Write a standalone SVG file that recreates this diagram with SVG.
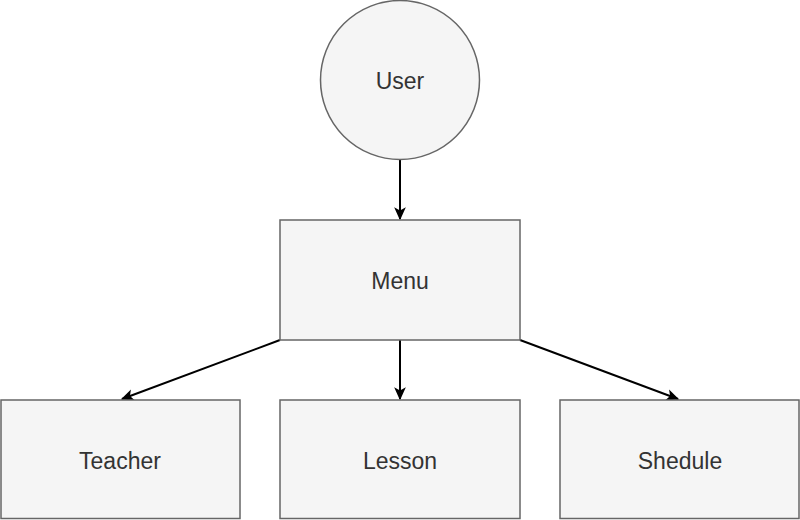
<svg xmlns="http://www.w3.org/2000/svg" width="800" height="520" viewBox="0 0 800 520">
<style>
.box{fill:#f5f5f5;stroke:#666666;stroke-width:1.5}
.lbl{font-family:"Liberation Sans",Arial,sans-serif;font-size:23px;fill:#333333;text-anchor:middle}
.edge{stroke:#000000;stroke-width:2;fill:none}
</style>
<defs>
<marker id="arr" viewBox="0 0 10 10" refX="9" refY="5" markerWidth="13" markerHeight="13" markerUnits="userSpaceOnUse" orient="auto">
<path d="M0,0.5 L10,5 L0,9.5 L2.5,5 Z" fill="#000000"/>
</marker>
</defs>
<rect width="800" height="520" fill="#ffffff"/>
<g id="connectors">
<path class="edge" d="M400,160 L400,219" marker-end="url(#arr)"/>
<path class="edge" d="M400,340 L400,399" marker-end="url(#arr)"/>
<path class="edge" d="M280,340 L122,399" marker-end="url(#arr)"/>
<path class="edge" d="M520,340 L678,399" marker-end="url(#arr)"/>
</g>
<g id="user">
<circle class="box" cx="400" cy="80" r="79.5"/>
<text class="lbl" x="400" y="89">User</text>
</g>
<g id="menu">
<rect class="box" x="280" y="220" width="240" height="120"/>
<text class="lbl" x="400" y="289">Menu</text>
</g>
<g id="teacher">
<rect class="box" x="1" y="400" width="239" height="118.5"/>
<text class="lbl" x="120" y="469">Teacher</text>
</g>
<g id="lesson">
<rect class="box" x="280" y="400" width="240" height="118.5"/>
<text class="lbl" x="400" y="469">Lesson</text>
</g>
<g id="shedule">
<rect class="box" x="560" y="400" width="239" height="118.5"/>
<text class="lbl" x="680" y="469">Shedule</text>
</g>
</svg>
